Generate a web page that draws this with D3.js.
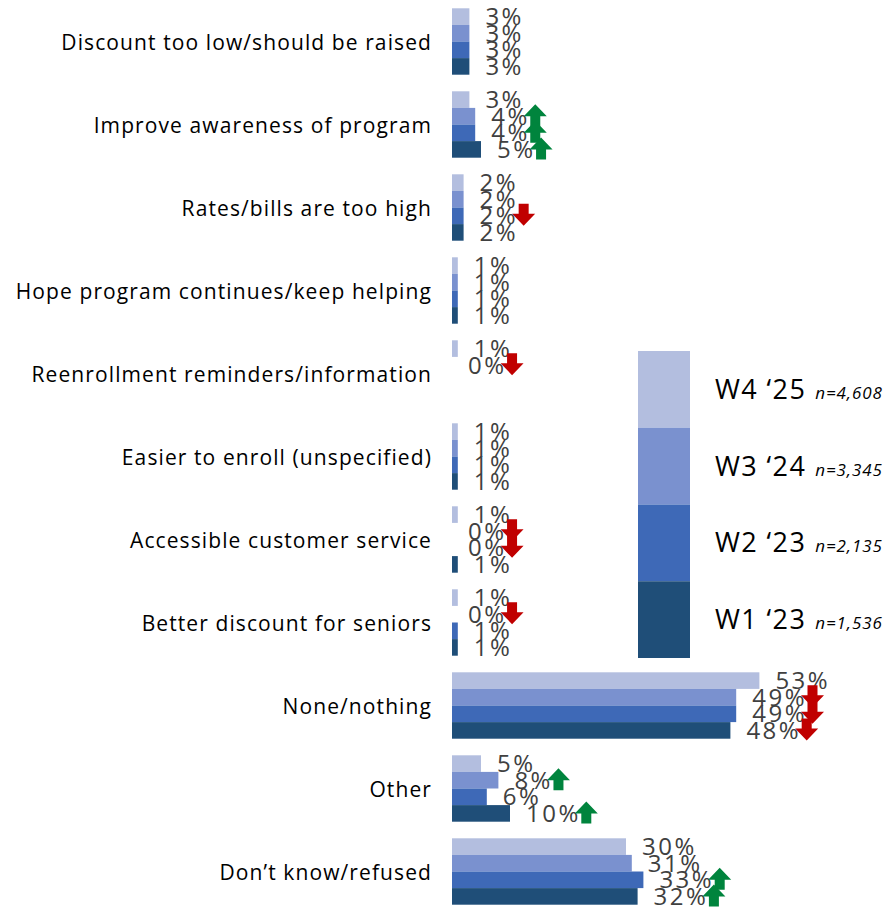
<!DOCTYPE html>
<html>
<head>
<meta charset="utf-8">
<script src="https://cdn.jsdelivr.net/npm/d3@7"></script>
<style>
  html, body { margin: 0; padding: 0; background: #fff; }
  svg { display: block; }
</style>
</head>
<body>
<svg id="chart" width="889" height="908"></svg>
<script>
// Suggested improvements, four survey waves (percent of respondents)
const categories = [
  "Discount too low/should be raised",
  "Improve awareness of program",
  "Rates/bills are too high",
  "Hope program continues/keep helping",
  "Reenrollment reminders/information",
  "Easier to enroll (unspecified)",
  "Accessible customer service",
  "Better discount for seniors",
  "None/nothing",
  "Other",
  "Don\u2019t know/refused"
];

const waves = ["W4", "W3", "W2", "W1"];
const waveNames = ["W4 \u201825", "W3 \u201824", "W2 \u201823", "W1 \u201823"];
const waveN = ["n=4,608", "n=3,345", "n=2,135", "n=1,536"];
const waveColors = ["#b3bedf", "#7a91cf", "#3e69b7", "#1f4e78"];

// null = not asked in that wave
const w4Values = [3, 3, 2, 1, 1, 1, 1, 1, 53, 5, 30];
const w3Values = [3, 4, 2, 1, 0, 1, 0, 0, 49, 8, 31];
const w2Values = [3, 4, 2, 1, null, 1, 0, 1, 49, 6, 33];
const w1Values = [3, 5, 2, 1, null, 1, 1, 1, 48, 10, 32];

// significance markers: "up", "down" or null
const w4Trend = [null, null, null, null, null, null, null, null, null, null, null];
const w3Trend = [null, "up", null, null, "down", null, "down", "down", "down", "up", null];
const w2Trend = [null, "up", "down", null, null, null, "down", null, "down", null, "up"];
const w1Trend = [null, "up", null, null, null, null, null, null, "down", "up", "up"];

const valuesByWave = [w4Values, w3Values, w2Values, w1Values];
const trendByWave = [w4Trend, w3Trend, w2Trend, w1Trend];

const rows = [];
categories.forEach((c, i) => {
  waves.forEach((w, j) => {
    const v = valuesByWave[j][i];
    if (v !== null) rows.push({ category: c, wave: w, value: v, trend: trendByWave[j][i], color: waveColors[j] });
  });
});

const svg = d3.select("#chart");

const labelFont = "'Open Sans', 'Noto Sans', sans-serif";

const y = d3.scaleBand()
  .domain(categories)
  .range([0, 913])
  .paddingInner(0.2)
  .paddingOuter(0.1);

const yWave = d3.scaleBand()
  .domain(waves)
  .range([0, y.bandwidth()]);

const x = d3.scaleLinear()
  .domain([0, 100])
  .range([452, 1032]);

// category labels
svg.append("g")
  .selectAll("text")
  .data(categories)
  .join("text")
  .attr("x", 432)
  .attr("y", d => y(d) + y.bandwidth() / 2 + 1)
  .attr("dy", "0.35em")
  .attr("text-anchor", "end")
  .attr("font-family", labelFont)
  .attr("font-size", 21)
  .attr("letter-spacing", 1.1)
  .attr("fill", "#000")
  .text(d => d);

// bars
svg.append("g")
  .selectAll("rect")
  .data(rows)
  .join("rect")
  .attr("x", x(0))
  .attr("y", d => y(d.category) + yWave(d.wave))
  .attr("width", d => x(d.value) - x(0))
  .attr("height", yWave.bandwidth())
  .attr("fill", d => d.color);

// value labels
const valueLabels = svg.append("g")
  .selectAll("text")
  .data(rows)
  .join("text")
  .attr("x", d => x(d.value) + 16)
  .attr("y", d => y(d.category) + yWave(d.wave) + yWave.bandwidth() / 2)
  .attr("dy", "0.36em")
  .attr("font-family", labelFont)
  .attr("font-size", 24)
  .attr("letter-spacing", 2.5)
  .attr("fill", "#404040")
  .text(d => d3.format(".0f")(d.value) + "%");

// trend arrows placed just after each value label
const arrowW = 23, arrowH = 22, shaftW = 10, headH = 12;
function arrowPath(dir) {
  const hw = arrowW / 2, sw = shaftW / 2;
  if (dir === "up") {
    return `M0,${-arrowH / 2} L${hw},${-arrowH / 2 + headH} L${sw},${-arrowH / 2 + headH} L${sw},${arrowH / 2} L${-sw},${arrowH / 2} L${-sw},${-arrowH / 2 + headH} L${-hw},${-arrowH / 2 + headH} Z`;
  }
  return `M0,${arrowH / 2} L${hw},${arrowH / 2 - headH} L${sw},${arrowH / 2 - headH} L${sw},${-arrowH / 2} L${-sw},${-arrowH / 2} L${-sw},${arrowH / 2 - headH} L${-hw},${arrowH / 2 - headH} Z`;
}

const arrowGroup = svg.append("g");
valueLabels.each(function (d) {
  if (!d.trend) return;
  const bb = this.getBBox();
  const cx = bb.x + bb.width + arrowW / 2 - 6;
  const cy = y(d.category) + yWave(d.wave) + yWave.bandwidth() / 2 - 1;
  arrowGroup.append("path")
    .attr("transform", `translate(${cx},${cy})`)
    .attr("d", arrowPath(d.trend))
    .attr("fill", d.trend === "up" ? "#00843d" : "#c00000");
});

// legend
const legY = d3.scaleBand()
  .domain(waves)
  .range([351, 658]);

const legend = svg.append("g");
legend.selectAll("rect")
  .data(waves)
  .join("rect")
  .attr("x", 638)
  .attr("y", d => legY(d))
  .attr("width", 52)
  .attr("height", legY.bandwidth())
  .attr("fill", (d, i) => waveColors[i]);

const legText = legend.selectAll("text")
  .data(waves)
  .join("text")
  .attr("x", 715)
  .attr("y", d => legY(d) + legY.bandwidth() / 2 + 4)
  .attr("dy", "0.35em")
  .attr("font-family", labelFont)
  .attr("fill", "#000");
legText.append("tspan")
  .attr("font-size", 27)
  .attr("letter-spacing", 1.4)
  .text((d, i) => waveNames[i]);
legText.append("tspan")
  .attr("font-size", 17)
  .attr("font-style", "italic")
  .attr("letter-spacing", 0.9)
  .attr("dx", 9)
  .text((d, i) => waveN[i]);
</script>
</body>
</html>
